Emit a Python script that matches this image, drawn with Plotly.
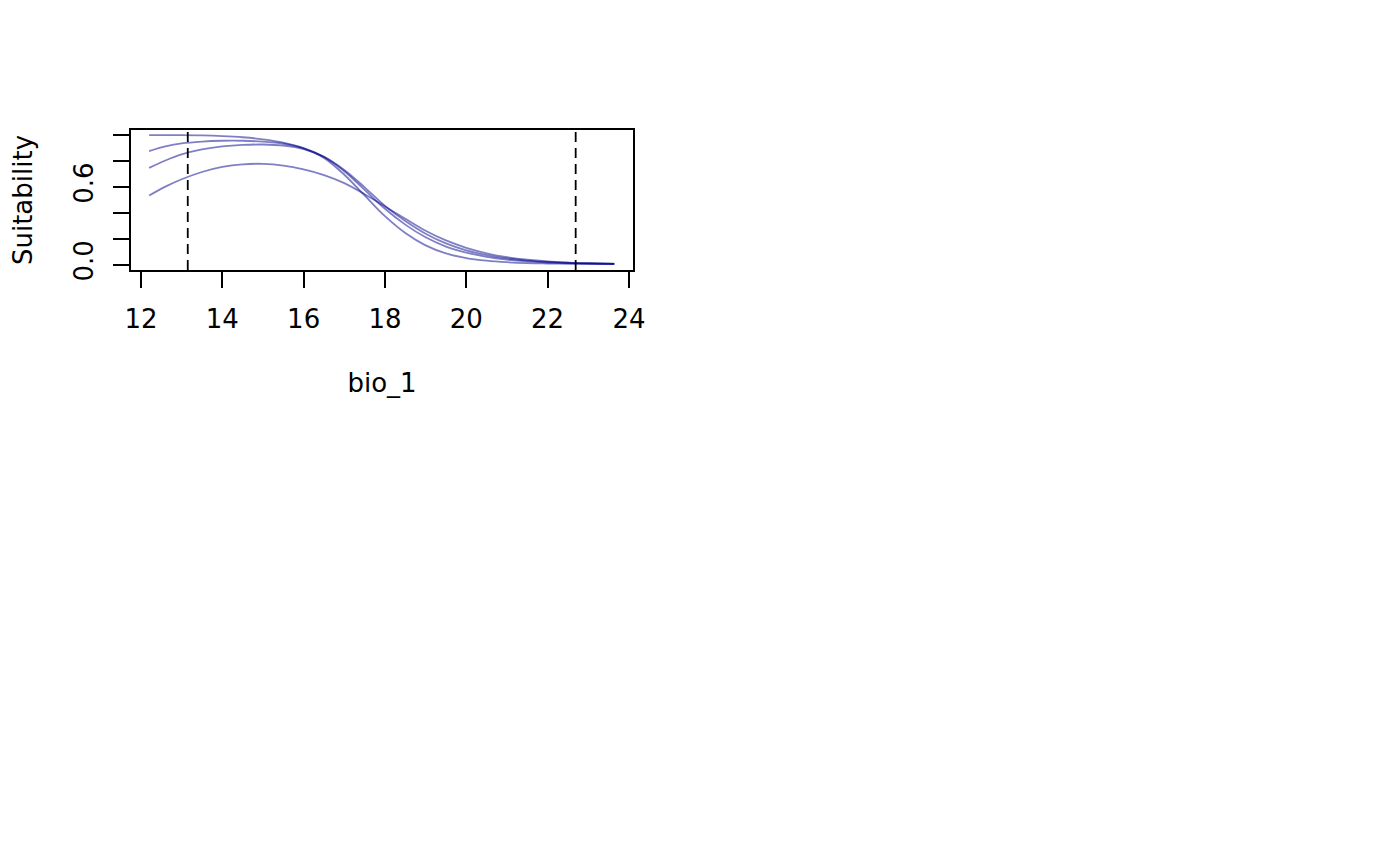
import plotly.graph_objects as go

# ---- data ----
bio_1 = [12.2, 12.6, 13.0, 13.5, 14.0, 14.5, 15.0, 15.5, 16.0, 16.5, 17.0, 17.5,
         18.0, 18.5, 19.0, 19.5, 20.0, 20.5, 21.0, 21.5, 22.0, 22.5, 23.0, 23.64]

rep_1 = [1.000, 1.000, 1.000, 0.998, 0.993, 0.984, 0.968, 0.942, 0.898, 0.825, 0.695, 0.535,
         0.375, 0.245, 0.150, 0.088, 0.052, 0.032, 0.020, 0.013, 0.010, 0.008, 0.007, 0.006]
rep_2 = [0.877, 0.913, 0.937, 0.951, 0.957, 0.957, 0.950, 0.934, 0.900, 0.833, 0.722, 0.578,
         0.432, 0.310, 0.212, 0.141, 0.094, 0.062, 0.040, 0.026, 0.018, 0.013, 0.010, 0.008]
rep_3 = [0.748, 0.805, 0.852, 0.890, 0.913, 0.925, 0.928, 0.920, 0.893, 0.833, 0.732, 0.598,
         0.455, 0.338, 0.240, 0.165, 0.111, 0.075, 0.050, 0.033, 0.022, 0.015, 0.011, 0.008]
rep_4 = [0.534, 0.603, 0.660, 0.716, 0.755, 0.775, 0.779, 0.766, 0.736, 0.692, 0.630, 0.545,
         0.450, 0.355, 0.263, 0.188, 0.131, 0.089, 0.059, 0.039, 0.026, 0.018, 0.012, 0.009]

replicates = [rep_1, rep_2, rep_3, rep_4]
range_limits = [13.15, 22.69]   # dashed vertical lines

x_ticks = [12, 14, 16, 18, 20, 22, 24]
y_ticks = [0.0, 0.2, 0.4, 0.6, 0.8, 1.0]
y_ticklabels = ["0.0", "", "", "0.6", "", ""]

x_range = [11.754, 24.10]
y_range = [-0.04, 1.04]

line_color = "rgba(0,0,139,0.5)"
font_family = "DejaVu Sans"
font_size = 26

fig = go.Figure()
for vals in replicates:
    fig.add_trace(go.Scatter(
        x=bio_1, y=vals, mode="lines",
        line=dict(color=line_color, width=1.8, shape="spline", smoothing=1.0),
        showlegend=False, hoverinfo="skip"))

for xv in range_limits:
    fig.add_shape(type="line", xref="x", yref="paper", x0=xv, x1=xv, y0=0, y1=1,
                  line=dict(color="black", width=1.8, dash="10px,6px"))

axis_common = dict(showline=True, mirror=True, linecolor="black", linewidth=1.6,
                   ticks="outside", ticklen=16, tickwidth=1.6, tickcolor="black",
                   showgrid=False, zeroline=False,
                   tickfont=dict(family=font_family, size=font_size, color="black"))

# the page adds an 8px body margin, so margins are shifted by 8px
fig.update_layout(
    width=1400, height=866,
    margin=dict(l=123, r=775, t=122, b=604, autoexpand=False),
    paper_bgcolor="white", plot_bgcolor="white",
    font=dict(family=font_family, size=font_size, color="black"),
    xaxis=dict(range=x_range, tickvals=x_ticks, ticktext=[str(t) for t in x_ticks],
               ticklabelstandoff=9,
               title=dict(text="bio_1", standoff=41,
                          font=dict(family=font_family, size=font_size, color="black")),
               **axis_common),
    yaxis=dict(range=y_range, tickvals=y_ticks, ticktext=y_ticklabels, tickangle=-90,
               ticklabelstandoff=10,
               title=dict(text="Suitability", standoff=32,
                          font=dict(family=font_family, size=font_size, color="black")),
               **axis_common),
)

fig.write_html("out.html")
